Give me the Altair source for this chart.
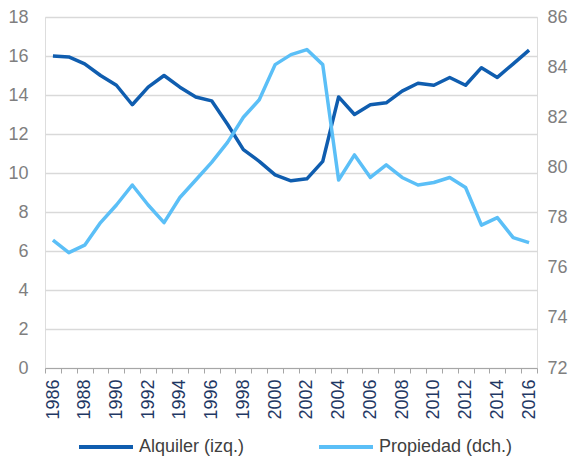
import altair as alt
import pandas as pd

years = list(range(1986, 2017))
alquiler = [16.0, 15.95, 15.6, 15.0, 14.5, 13.5, 14.4, 15.0, 14.4, 13.9,
            13.7, 12.5, 11.2, 10.6, 9.9, 9.6, 9.7, 10.6, 13.9, 13.0,
            13.5, 13.6, 14.2, 14.6, 14.5, 14.9, 14.5, 15.4, 14.9, 15.6, 16.3]
propiedad = [77.1, 76.6, 76.9, 77.8, 78.5, 79.3, 78.5, 77.8, 78.8, 79.5,
             80.2, 81.0, 82.0, 82.7, 84.1, 84.5, 84.7, 84.1, 79.5, 80.5,
             79.6, 80.1, 79.6, 79.3, 79.4, 79.6, 79.2, 77.7, 78.0, 77.2, 77.0]
series_names = ["Alquiler (izq.)", "Propiedad (dch.)"]
colors = ["#0f5daf", "#5bbff7"]
left_ticks = list(range(0, 19, 2))
right_ticks = list(range(72, 87, 2))

df = pd.concat([
    pd.DataFrame({"year": years, "value": alquiler, "serie": series_names[0]}),
    pd.DataFrame({"year": years, "value": propiedad, "serie": series_names[1]}),
])

FONT = "Liberation Sans"

color = alt.Color(
    "serie:N",
    scale=alt.Scale(domain=series_names, range=colors),
    legend=alt.Legend(
        orient="none", legendX=32, legendY=401, direction="horizontal",
        title=None, symbolType="stroke", symbolSize=2916, symbolStrokeWidth=4,
        labelFontSize=18, labelFont=FONT, labelColor="#404040",
        labelOffset=4, columnPadding=66, padding=0,
    ),
)

boundaries = [y - 0.5 for y in range(1986, 2018)]
x = alt.X(
    "year:Q",
    scale=alt.Scale(domain=[1985.5, 2016.5], nice=False, zero=False),
    axis=alt.Axis(
        values=boundaries,
        labelExpr="((datum.value + 0.5) % 2 == 0 && datum.value < 2016) ? format(datum.value + 0.5, 'd') : ''",
        labelAngle=-90, labelOffset=8, labelFlush=False, labelOverlap=False,
        labelBound=False, labelPadding=6,
        labelFontSize=18, labelFont=FONT, labelColor="#1f3864",
        grid=False, domainColor="#a6a6a6", tickColor="#a6a6a6", tickSize=5,
        domainWidth=1, tickWidth=1, title=None,
    ),
)

base = alt.Chart(df)

left = base.transform_filter(alt.datum.serie == series_names[0]).mark_line(
    strokeWidth=3.5, strokeJoin="round"
).encode(
    x=x,
    y=alt.Y("value:Q", scale=alt.Scale(domain=[0, 18], nice=False),
            axis=alt.Axis(values=left_ticks, grid=True, gridColor="#d9d9d9",
                          gridWidth=1.5, domain=False, ticks=False,
                          labelFontSize=18, labelFont=FONT, labelColor="#7f7f7f",
                          labelPadding=17, title=None)),
    color=color,
)

right = base.transform_filter(alt.datum.serie == series_names[1]).mark_line(
    strokeWidth=3.5, strokeJoin="round"
).encode(
    x=x,
    y=alt.Y("value:Q", scale=alt.Scale(domain=[72, 86], nice=False, zero=False),
            axis=alt.Axis(values=right_ticks, orient="right", grid=False,
                          domain=False, ticks=False,
                          labelFontSize=18, labelFont=FONT, labelColor="#7f7f7f",
                          labelPadding=10, title=None)),
    color=color,
)

chart = alt.layer(left, right).resolve_scale(y="independent").properties(
    width=492, height=351,
    autosize=alt.AutoSizeParams(type="none"),
    padding={"left": 37, "top": 9, "right": 31, "bottom": 92},
).configure_view(stroke=None).configure(font=FONT)

chart.save("out.html", embed_options={"renderer": "svg", "actions": False})
